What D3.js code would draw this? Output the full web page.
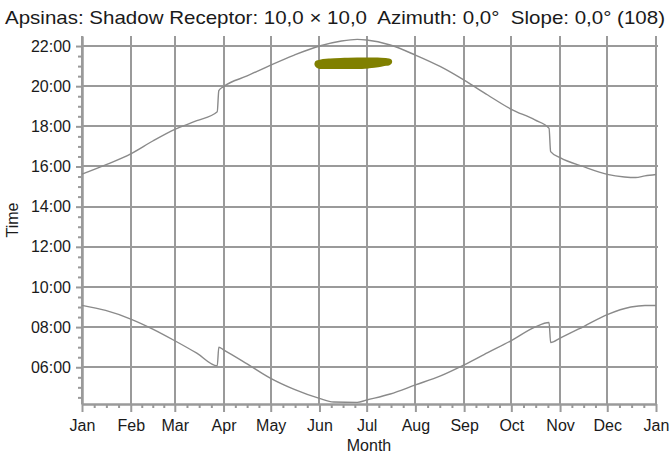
<!DOCTYPE html>
<html>
<head>
<meta charset="utf-8">
<script src="https://cdn.jsdelivr.net/npm/d3@7/dist/d3.min.js"></script>
<style>
  body { margin: 0; background: #fff; }
  svg { display: block; font-family: "Liberation Sans", Arial, sans-serif; }
</style>
</head>
<body>
<div id="chart"></div>
<script>
var titleText = "Apsinas: Shadow Receptor: 10,0 \u00d7 10,0  Azimuth: 0,0\u00b0  Slope: 0,0\u00b0 (108)";
var xTitle = "Month";
var yTitle = "Time";
var monthLabels = ["Jan","Feb","Mar","Apr","May","Jun","Jul","Aug","Sep","Oct","Nov","Dec","Jan"];
var hourTicks = [6, 8, 10, 12, 14, 16, 18, 20, 22];

// sunset (upper line), day of year -> hour
var sunsetDays  = [0, 15, 31, 45, 59, 73, 86, 87, 90, 105, 120, 135, 151, 165, 175, 181, 196, 212, 228, 243, 258, 273, 288, 297, 298, 304, 319, 334, 345, 352, 358, 365];
var sunsetHours = [15.62, 16.08, 16.63, 17.27, 17.85, 18.28, 18.73, 19.78, 19.98, 20.51, 21.05, 21.55, 22.0, 22.25, 22.33, 22.3, 22.05, 21.55, 20.97, 20.3, 19.56, 18.85, 18.32, 17.9, 16.74, 16.44, 15.99, 15.61, 15.48, 15.45, 15.53, 15.6];

// sunrise (lower line)
var sunriseDays  = [0, 15, 31, 45, 59, 73, 86, 87, 90, 105, 120, 135, 151, 160, 175, 181, 196, 212, 228, 243, 258, 273, 288, 297, 298, 304, 319, 334, 349, 358, 365];
var sunriseHours = [9.08, 8.83, 8.4, 7.9, 7.32, 6.7, 6.07, 7.0, 6.87, 6.17, 5.45, 4.9, 4.45, 4.27, 4.25, 4.37, 4.67, 5.12, 5.57, 6.12, 6.73, 7.33, 8.0, 8.23, 7.23, 7.45, 8.03, 8.62, 9.0, 9.08, 9.08];

// shadow period
var shadowDays  = [150, 151, 158, 167, 175, 182, 188, 193, 195];
var shadowStart = [21.12, 21.14, 21.21, 21.24, 21.26, 21.26, 21.26, 21.23, 21.21];
var shadowEnd   = [21.10, 21.03, 21.03, 21.03, 21.03, 21.06, 21.11, 21.19, 21.21];

(function(){
  var width = 671, height = 457;
  var plotLeft = 82, plotRight = 656, plotTop = 36, plotBottom = 404;
  var gridColor = "#9a9a9a";
  var textColor = "#1a1a1a";

  var yearStart = new Date(2021, 0, 1);
  var dayDate = function(d){ return d3.timeDay.offset(yearStart, d); };

  var x = d3.scaleTime()
    .domain([yearStart, new Date(2022, 0, 1)])
    .range([plotLeft, plotRight]);
  var y = d3.scaleLinear()
    .domain([4.17, 22.5])
    .range([plotBottom, plotTop]);

  var svg = d3.select("#chart").append("svg")
    .attr("width", width)
    .attr("height", height);

  var monthTicks = d3.timeMonth.range(yearStart, new Date(2022, 0, 2));
  var minorMonthTicks = [];
  monthTicks.slice(0, 12).forEach(function(m){
    var len = d3.timeDay.count(m, d3.timeMonth.offset(m, 1));
    for (var i = 1; i < 4; i++) {
      minorMonthTicks.push(new Date(+m + i * len / 4 * 864e5));
    }
  });
  var minorHours = d3.range(4.5, 22.5, 0.5).filter(function(h){ return hourTicks.indexOf(h) < 0; });

  // grid
  svg.append("g").attr("class", "grid")
    .selectAll("line").data(monthTicks).enter().append("line")
    .attr("x1", function(d){ return Math.round(x(d)); })
    .attr("x2", function(d){ return Math.round(x(d)); })
    .attr("y1", plotTop).attr("y2", plotBottom)
    .attr("stroke", gridColor).attr("stroke-width", 2);
  svg.append("g").attr("class", "grid")
    .selectAll("line").data(hourTicks).enter().append("line")
    .attr("x1", plotLeft).attr("x2", plotRight + 2)
    .attr("y1", function(d){ return Math.round(y(d)); })
    .attr("y2", function(d){ return Math.round(y(d)); })
    .attr("stroke", gridColor).attr("stroke-width", 2);

  // axes
  svg.append("g")
    .attr("transform", "translate(" + plotLeft + ",0)")
    .call(d3.axisLeft(y).tickValues(hourTicks).tickSize(6).tickSizeOuter(0).tickPadding(5)
      .tickFormat(function(h){ return (h < 10 ? "0" : "") + h + ":00"; }));
  svg.append("g")
    .attr("transform", "translate(" + plotLeft + ",0)")
    .call(d3.axisLeft(y).tickValues(minorHours).tickSize(4).tickSizeOuter(0).tickFormat(""));

  svg.append("g")
    .attr("transform", "translate(0," + plotBottom + ")")
    .call(d3.axisBottom(x).tickValues(monthTicks).tickSize(8).tickSizeOuter(0).tickPadding(8)
      .tickFormat(function(d, i){ return monthLabels[i]; }));
  svg.append("g")
    .attr("transform", "translate(0," + plotBottom + ")")
    .call(d3.axisBottom(x).tickValues(minorMonthTicks).tickSize(4).tickSizeOuter(0).tickFormat(""));

  svg.selectAll(".domain, .tick line").attr("stroke", gridColor).attr("stroke-width", 2);
  svg.selectAll(".tick text")
    .attr("fill", textColor)
    .attr("font-family", null)
    .attr("font-size", null)
    .style("font-size", "16px");

  // sunrise / sunset
  var line = d3.line()
    .x(function(d){ return x(dayDate(d[0])); })
    .y(function(d){ return y(d[1]); })
    .curve(d3.curveMonotoneX);

  svg.append("path")
    .datum(d3.zip(sunsetDays, sunsetHours))
    .attr("d", line)
    .attr("fill", "none").attr("stroke", "#8a8a8a").attr("stroke-width", 1.4);
  svg.append("path")
    .datum(d3.zip(sunriseDays, sunriseHours))
    .attr("d", line)
    .attr("fill", "none").attr("stroke", "#8a8a8a").attr("stroke-width", 1.4);

  // shadow
  var area = d3.area()
    .x(function(d){ return x(dayDate(d[0])); })
    .y0(function(d){ return y(d[2]); })
    .y1(function(d){ return y(d[1]); })
    .curve(d3.curveMonotoneX);
  svg.append("path")
    .datum(d3.zip(shadowDays, shadowStart, shadowEnd))
    .attr("d", area)
    .attr("fill", "#808000").attr("stroke", "#808000")
    .attr("stroke-width", 7).attr("stroke-linejoin", "round");

  // titles
  svg.append("text")
    .attr("x", 5).attr("y", 24)
    .attr("textLength", 660).attr("lengthAdjust", "spacingAndGlyphs")
    .style("white-space", "pre")
    .style("font-size", "19px")
    .attr("fill", textColor)
    .text(titleText);
  svg.append("text")
    .attr("x", 369).attr("y", 451)
    .attr("text-anchor", "middle")
    .style("font-size", "16px")
    .attr("fill", textColor)
    .text(xTitle);
  svg.append("text")
    .attr("transform", "translate(18,220) rotate(-90)")
    .attr("text-anchor", "middle")
    .style("font-size", "16px")
    .attr("fill", textColor)
    .text(yTitle);
})();
</script>
</body>
</html>
